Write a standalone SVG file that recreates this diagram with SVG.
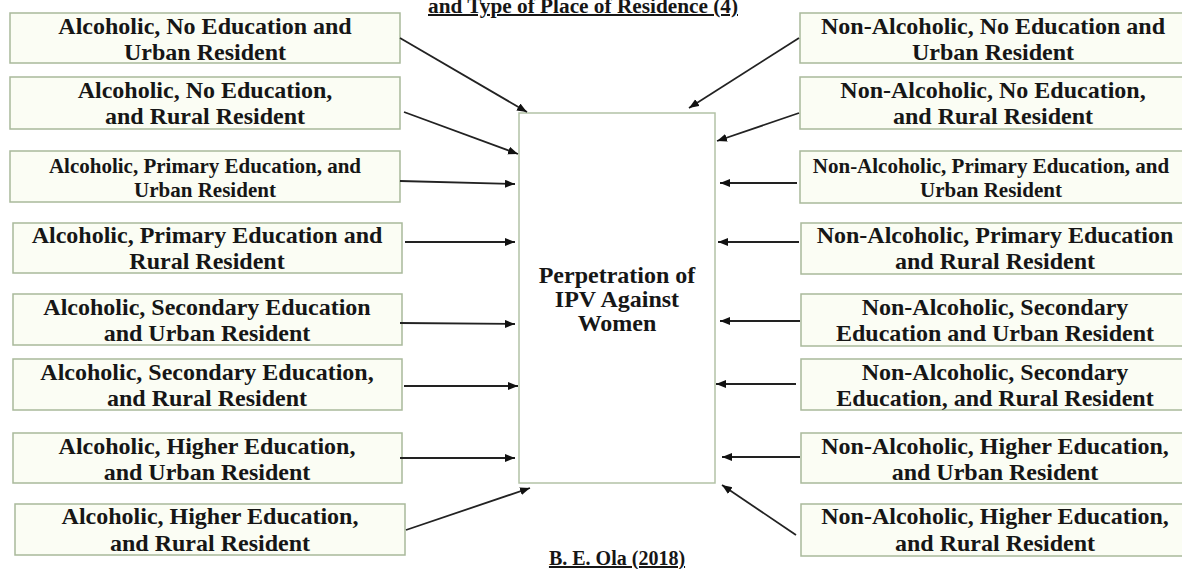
<svg xmlns="http://www.w3.org/2000/svg" width="1182" height="569" viewBox="0 0 1182 569">
<defs>
<style>
.box{fill:#fbfdf4;stroke:#a9b99b;stroke-width:1.5}
.center{fill:#ffffff;stroke:#b3c2a6;stroke-width:1.5}
.t{font-family:"Liberation Serif","Times New Roman",serif;font-weight:bold;font-size:24px;fill:#161616;text-anchor:middle}
.s{font-size:21px}
.conn{stroke:#222;stroke-width:1.8;fill:none;marker-end:url(#ah)}
.u{text-decoration:underline}
</style>
<marker id="ah" markerUnits="userSpaceOnUse" markerWidth="12" markerHeight="10" refX="10" refY="4" orient="auto">
<path d="M0,0 L10,4 L0,8 Z" fill="#111"/>
</marker>
</defs>
<rect width="1182" height="569" fill="#ffffff"/>

<g id="title">
<text class="t u" x="583" y="13" style="font-size:20px" textLength="310" lengthAdjust="spacingAndGlyphs">and Type of Place of Residence (4)</text>
</g>

<g id="center">
<rect class="center" x="519" y="113" width="196" height="370"/>
<text class="t" x="617" y="283">Perpetration of</text>
<text class="t" x="617" y="307">IPV Against</text>
<text class="t" x="617" y="331">Women</text>
</g>

<g id="L1"><rect class="box" x="10" y="13" width="390" height="50"/>
<text class="t" x="205" y="34">Alcoholic, No Education and</text><text class="t" x="205" y="60">Urban Resident</text></g>
<g id="L2"><rect class="box" x="10" y="77" width="390" height="52"/>
<text class="t" x="205" y="98">Alcoholic, No Education,</text><text class="t" x="205" y="124">and Rural Resident</text></g>
<g id="L3"><rect class="box" x="10" y="151" width="390" height="51"/>
<text class="t s" x="205" y="173">Alcoholic, Primary Education, and</text><text class="t s" x="205" y="197">Urban Resident</text></g>
<g id="L4"><rect class="box" x="13" y="223" width="389" height="50"/>
<text class="t" x="207" y="243">Alcoholic, Primary Education and</text><text class="t" x="207" y="269">Rural Resident</text></g>
<g id="L5"><rect class="box" x="13" y="294" width="389" height="51"/>
<text class="t" x="207" y="315">Alcoholic, Secondary Education</text><text class="t" x="207" y="341">and Urban Resident</text></g>
<g id="L6"><rect class="box" x="13" y="359" width="389" height="51"/>
<text class="t" x="207" y="380">Alcoholic, Secondary Education,</text><text class="t" x="207" y="406">and Rural Resident</text></g>
<g id="L7"><rect class="box" x="13" y="433" width="389" height="50"/>
<text class="t" x="207" y="454">Alcoholic, Higher Education,</text><text class="t" x="207" y="480">and Urban Resident</text></g>
<g id="L8"><rect class="box" x="15" y="504" width="390" height="51"/>
<text class="t" x="210" y="524">Alcoholic, Higher Education,</text><text class="t" x="210" y="551">and Rural Resident</text></g>

<g id="R1"><rect class="box" x="800" y="13" width="388" height="50"/>
<text class="t" x="993" y="34">Non-Alcoholic, No Education and</text><text class="t" x="993" y="60">Urban Resident</text></g>
<g id="R2"><rect class="box" x="800" y="77" width="388" height="52"/>
<text class="t" x="993" y="98">Non-Alcoholic, No Education,</text><text class="t" x="993" y="124">and Rural Resident</text></g>
<g id="R3"><rect class="box" x="800" y="151" width="388" height="52"/>
<text class="t s" x="991" y="173">Non-Alcoholic, Primary Education, and</text><text class="t s" x="991" y="197">Urban Resident</text></g>
<g id="R4"><rect class="box" x="801" y="223" width="388" height="51"/>
<text class="t" x="995" y="243">Non-Alcoholic, Primary Education</text><text class="t" x="995" y="269">and Rural Resident</text></g>
<g id="R5"><rect class="box" x="801" y="294" width="388" height="52"/>
<text class="t" x="995" y="315">Non-Alcoholic, Secondary</text><text class="t" x="995" y="341">Education and Urban Resident</text></g>
<g id="R6"><rect class="box" x="801" y="359" width="388" height="51"/>
<text class="t" x="995" y="380">Non-Alcoholic, Secondary</text><text class="t" x="995" y="406">Education, and Rural Resident</text></g>
<g id="R7"><rect class="box" x="801" y="433" width="388" height="50"/>
<text class="t" x="995" y="454">Non-Alcoholic, Higher Education,</text><text class="t" x="995" y="480">and Urban Resident</text></g>
<g id="R8"><rect class="box" x="801" y="504" width="388" height="52"/>
<text class="t" x="995" y="524">Non-Alcoholic, Higher Education,</text><text class="t" x="995" y="551">and Rural Resident</text></g>

<g id="connectors">
<line class="conn" x1="400" y1="38" x2="527" y2="112"/>
<line class="conn" x1="404" y1="112" x2="518" y2="154"/>
<line class="conn" x1="400" y1="181" x2="515" y2="184"/>
<line class="conn" x1="405" y1="242" x2="515" y2="242"/>
<line class="conn" x1="400" y1="323" x2="515" y2="324"/>
<line class="conn" x1="404" y1="386" x2="518" y2="386"/>
<line class="conn" x1="400" y1="458" x2="515" y2="458"/>
<line class="conn" x1="406" y1="530" x2="530" y2="488"/>
<line class="conn" x1="799" y1="38" x2="689" y2="108"/>
<line class="conn" x1="799" y1="113" x2="717" y2="141"/>
<line class="conn" x1="797" y1="183" x2="720" y2="183"/>
<line class="conn" x1="799" y1="242" x2="718" y2="242"/>
<line class="conn" x1="800" y1="321" x2="720" y2="321"/>
<line class="conn" x1="796" y1="384" x2="716" y2="384"/>
<line class="conn" x1="800" y1="457" x2="722" y2="457"/>
<line class="conn" x1="796" y1="535" x2="722" y2="485"/>
</g>

<g id="credit">
<text class="t u" x="617" y="565" style="font-size:20px">B. E. Ola (2018)</text>
</g>
</svg>
